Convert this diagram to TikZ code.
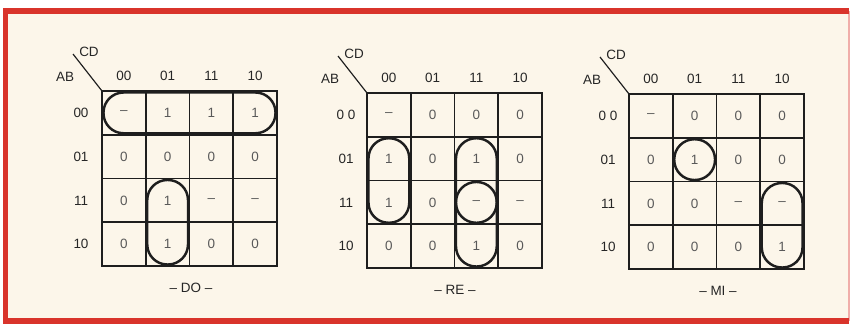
\documentclass[tikz,border=0pt]{standalone}
\usepackage{fontspec}
\setmainfont{Liberation Sans}
\definecolor{framered}{HTML}{D9342B}
\definecolor{paper}{HTML}{FCF6EA}
\definecolor{ink}{HTML}{1E1E1E}

\tikzstyle{cell} = [draw=ink, line width=1.4pt, minimum size=1.3125cm, inner sep=0pt, outer sep=0pt, text=black!65, font=\fontsize{11.5}{13}\selectfont]
\tikzstyle{head} = [inner sep=1pt, text=black!85, font=\fontsize{11.5}{13}\selectfont]
\tikzstyle{implicant} = [draw=ink, line width=2.1pt, rounded corners=0.6cm]

\begin{document}
\begin{tikzpicture}[x=0.03cm,y=-0.03cm]
\useasboundingbox (0,0) rectangle (852,323);
\fill[white] (0,0) rectangle (852,323);
\fill[paper] (5.5,11) rectangle (849,321);
\draw[framered!40, line width=1pt] (849,11) -- (849,321);
\draw[framered, line width=4.5pt] (849,11) -- (5.5,11) -- (5.5,321) -- (849,321);

% the three maps
\foreach \m/\ox/\oy/\vals/\rows in {
  do/102/91/{--,1,1,1,0,0,0,0,0,1,--,--,0,1,0,0}/{00,01,11,10},
  re/367/93/{--,0,0,0,1,0,1,0,1,0,--,--,0,0,1,0}/{0 0,01,11,10},
  mi/629/94/{--,0,0,0,0,1,0,0,0,0,--,--,0,0,0,1}/{0 0,01,11,10}} {
  \foreach \v [count=\k from 0] in \vals {
    \pgfmathtruncatemacro\row{\k/4}
    \pgfmathtruncatemacro\col{mod(\k,4)}
    \node[cell] (\m-\k) at (\ox+21.875+43.75*\col, \oy+21.875+43.75*\row) {\v};
  }
  \foreach \h [count=\c from 0] in {00,01,11,10}
    \node[head] (\m-col\c) at (\ox+21.875+43.75*\c, \oy-15) {\h};
  \foreach \h [count=\c from 0] in \rows
    \node[head] (\m-row\c) at (\ox-21, \oy+21.875+43.75*\c) {\h};
  \coordinate (\m-corner) at (\ox,\oy);
  \coordinate (\m-diag) at (\ox-29,\oy-37);
  \draw[ink, line width=1pt] (\m-corner) -- (\m-diag);
  \node[head] (\m-cd) at (\ox-13,\oy-39) {CD};
  \node[head] (\m-ab) at (\ox-37,\oy-14) {AB};
}

% groupings
\draw[implicant] ([shift={(1.5,1.5)}]do-0.north west) rectangle ([shift={(-1.5,-1.5)}]do-3.south east);
\draw[implicant] ([shift={(1.5,1.5)}]do-9.north west) rectangle ([shift={(-1.5,-1.5)}]do-13.south east);
\draw[implicant] ([shift={(1.5,1.5)}]re-4.north west) rectangle ([shift={(-1.5,-1.5)}]re-8.south east);
\draw[implicant] ([shift={(1.5,1.5)}]re-6.north west) rectangle ([shift={(-1.5,-1.5)}]re-10.south east);
\draw[implicant] ([shift={(1.5,1.5)}]re-10.north west) rectangle ([shift={(-1.5,-1.5)}]re-14.south east);
\draw[implicant] ([shift={(1.5,1.5)}]mi-5.north west) rectangle ([shift={(-1.5,-1.5)}]mi-5.south east);
\draw[implicant] ([shift={(1.5,1.5)}]mi-11.north west) rectangle ([shift={(-1.5,-1.5)}]mi-15.south east);

% names
\node[head] (do-name) at (191,288) {-- DO --};
\node[head] (re-name) at (455,290) {-- RE --};
\node[head] (mi-name) at (718,291) {-- MI --};
\end{tikzpicture}
\end{document}
